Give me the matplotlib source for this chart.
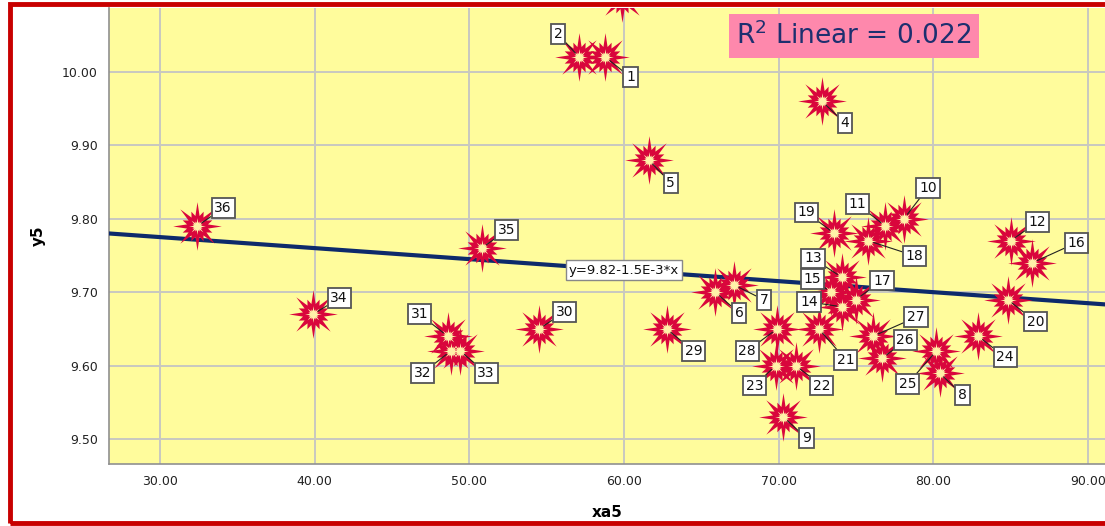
import numpy as np
import matplotlib
matplotlib.use("Agg")
import matplotlib.pyplot as plt
from matplotlib.path import Path
from matplotlib.patches import Rectangle

# ---- data ----
case_ids = list(range(1, 37))
xa5 = [58.8, 57.1, 59.9, 72.8, 61.6, 65.9, 67.1, 80.4, 70.3, 78.1,
       76.9, 85.0, 74.1, 74.1, 73.4, 86.4, 75.0, 75.8, 73.6, 84.8,
       72.6, 71.1, 69.8, 82.9, 80.2, 76.7, 76.1, 69.9, 62.75, 54.5,
       48.6, 48.8, 49.4, 39.9, 50.8, 32.4]
y5 = [10.02, 10.02, 10.10, 9.96, 9.88, 9.70, 9.71, 9.59, 9.53, 9.80,
      9.79, 9.77, 9.72, 9.68, 9.70, 9.74, 9.69, 9.77, 9.78, 9.69,
      9.65, 9.60, 9.60, 9.64, 9.62, 9.61, 9.64, 9.65, 9.65, 9.65,
      9.64, 9.62, 9.62, 9.67, 9.76, 9.79]
intercept = 9.82
slope = -1.5e-3
r2 = 0.022
x_ticks = [30, 40, 50, 60, 70, 80, 90]
y_ticks = [9.5, 9.6, 9.7, 9.8, 9.9, 10.0]

# label box offsets in pixels (dx right, dy down)
label_off = {
    1: (25, 20), 2: (-21, -23), 3: (24, 24), 4: (23, 22), 5: (22, 23),
    6: (24, 21), 7: (30, 15), 8: (23, 22), 9: (23, 21), 10: (24, -31),
    11: (-28, -22), 12: (27, -19), 13: (-29, -19), 14: (-33, -5),
    15: (-19, -13), 16: (44, -20), 17: (26, -19), 18: (46, 15),
    19: (-28, -21), 20: (28, 22), 21: (27, 31), 22: (26, 20),
    23: (-21, 20), 24: (27, 21), 25: (-29, 33), 26: (23, -18),
    27: (43, -19), 28: (-30, 22), 29: (27, 22), 30: (26, -17),
    31: (-28, -22), 32: (-28, 22), 33: (26, 22), 34: (26, -16),
    35: (25, -18), 36: (26, -18),
}

# ---- star marker (8 long + 8 short spikes) ----
verts = []
for k in range(32):
    ang = np.pi / 2 + k * np.pi / 16
    if k % 4 == 0:
        r = 1.0
    elif k % 4 == 2:
        r = 0.66
    else:
        r = 0.44
    verts.append((r * np.cos(ang), r * np.sin(ang)))
verts.append(verts[0])
codes = [Path.MOVETO] + [Path.LINETO] * 31 + [Path.CLOSEPOLY]
star = Path(verts, codes)

fig = plt.figure(figsize=(11.05, 5.26), dpi=100)
ax = fig.add_axes([109 / 1105, 62 / 526, 996 / 1105, 456 / 526])
ax.set_facecolor("#fffc9c")

ax.set_xlim(26.7, 91.1)
ax.set_ylim(9.466, 10.087)

ax.set_xticks(x_ticks)
ax.set_xticklabels([f"{v:.2f}" for v in x_ticks])
ax.set_yticks(y_ticks)
ax.set_yticklabels([f"{v:.2f}" for v in y_ticks])
ax.tick_params(length=0, labelsize=9, colors="#222222", pad=8)
ax.grid(True, color="#c8c8c0", linewidth=1.4)
ax.set_axisbelow(True)
for side in ["top", "right"]:
    ax.spines[side].set_visible(False)
for side in ["left", "bottom"]:
    ax.spines[side].set_color("#909090")
    ax.spines[side].set_linewidth(1.2)

# regression line
xl = np.array(ax.get_xlim())
ax.plot(xl, intercept + slope * xl, color="#0d2a6b", linewidth=3, zorder=3)

# stars
ax.scatter(xa5, y5, marker=star, s=35 ** 2, color="#d9063c",
           linewidths=0, zorder=4)
ax.scatter(xa5, y5, marker=star, s=12 ** 2, color="#fff2a8",
           linewidths=0, zorder=5)

# case labels
for cid, xv, yv in zip(case_ids, xa5, y5):
    dx, dy = label_off[cid]
    ax.annotate(str(cid), (xv, yv), xytext=(dx, -dy),
                textcoords="offset pixels", ha="center", va="center",
                fontsize=10, color="#111111", zorder=6,
                bbox=dict(boxstyle="square,pad=0.2", fc="white",
                          ec="#555555", lw=1.3),
                arrowprops=dict(arrowstyle="-", color="#222222", lw=0.8,
                                shrinkA=0, shrinkB=4))

# equation label
ax.text(60, intercept + slope * 60, "y=9.82-1.5E-3*x", ha="center",
        va="center", fontsize=9.5, color="#111111", zorder=6,
        bbox=dict(boxstyle="square,pad=0.25", fc="white", ec="#888888",
                  lw=1))

ax.set_xlabel("xa5", fontsize=11, fontweight="bold", labelpad=12)
ax.set_ylabel("y5", fontsize=11, fontweight="bold", labelpad=12)

# R2 box
fig.text(854 / 1105, 1 - 36 / 526, f"R$^2$ Linear = {r2:.3f}",
         ha="center", va="center", fontsize=19, color="#1d2f6f",
         bbox=dict(boxstyle="square,pad=0.3", fc="#fe88ac", ec="none"))

# red outer frame
fig.patches.append(Rectangle((10 / 1105, 3 / 526), 1.2, 519 / 526,
                             transform=fig.transFigure, fill=False,
                             ec="#c80000", lw=3.5, zorder=10))

fig.savefig("out.png", dpi=100)
